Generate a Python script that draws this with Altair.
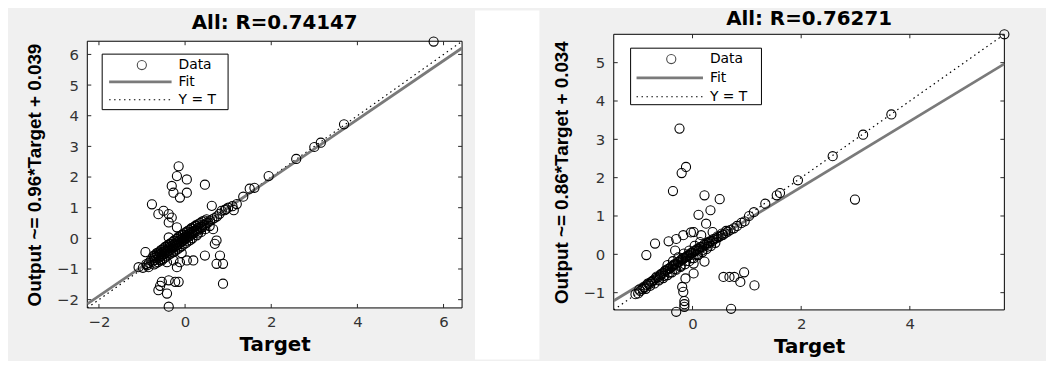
import altair as alt
import pandas as pd

# ---------------- Left panel data ----------------
left_title = "All: R=0.74147"
left_ytitle = "Output ~= 0.96*Target + 0.039"
left_domain = [-2.27, 6.43]
left_xticks = [-2, 0, 2, 4, 6]
left_yticks = [-2, -1, 0, 1, 2, 3, 4, 5, 6]
left_fit_x = [-2.27, 6.43]
left_fit_y = [-2.14, 6.21]

left_out_x = [5.77, 3.69, 3.00, 3.15, 2.58, 1.94, 1.61, 1.50, 1.35, 1.20, 1.13, 1.10, 0.85, 0.95, 0.62, 0.46,
              -0.15, -0.19, 0.04, -0.31, -0.27, 0.04, -0.12,
              -0.77, -0.50, -0.62, -0.38, -0.31, -0.38, -0.19, -0.38,
              -0.92, 0.65, 0.73, 0.69, 0.46, 0.81, 0.88, 0.73, 0.88,
              -0.27, -0.12, 0.04, 0.19, -0.19, -0.54, -0.42, -0.08,
              -0.54, -0.38, -0.23, -0.15, -0.62, -0.42, -0.38, -0.58,
              -1.08, -0.88, -0.85]
left_out_y = [6.42, 3.72, 2.98, 3.12, 2.59, 2.03, 1.65, 1.62, 1.36, 1.12, 0.92, 1.05, 0.90, 0.95, 1.06, 1.75,
              2.35, 2.03, 1.92, 1.71, 1.49, 1.49, 1.33,
              1.11, 0.90, 0.79, 0.79, 0.68, 0.52, 0.36, 0.03,
              -0.45, 0.30, -0.07, -0.18, -0.56, -0.56, -0.83, -0.83, -1.48,
              -0.72, -0.78, -0.72, -0.72, -0.94, -0.72, -0.78, -0.48,
              -1.42, -1.37, -1.42, -1.42, -1.69, -1.80, -2.23, -1.55,
              -0.94, -0.88, -0.94]
left_band_x = [-0.98, -0.90, -0.84, -0.80, -0.76, -0.72, -0.70, -0.67, -0.64, -0.62,
               -0.60, -0.58, -0.55, -0.53, -0.50, -0.48, -0.46, -0.44, -0.42, -0.40,
               -0.38, -0.36, -0.34, -0.32, -0.30, -0.28, -0.26, -0.24, -0.22, -0.20,
               -0.18, -0.16, -0.14, -0.12, -0.10, -0.08, -0.06, -0.04, -0.02, 0.00,
               0.02, 0.04, 0.06, 0.08, 0.10, 0.12, 0.14, 0.16, 0.18, 0.20,
               0.22, 0.25, 0.28, 0.31, 0.34, 0.37, 0.40, 0.43, 0.46, 0.50,
               0.54, 0.58, 0.63, 0.68, 0.74, 0.80, 0.92, 1.00,
               -0.74, -0.66, -0.56, -0.46, -0.36, -0.26, -0.16, -0.06, 0.04, 0.14, 0.24,
               -0.68, -0.58, -0.48, -0.38, -0.28, -0.18, -0.08, 0.02, 0.12, 0.30,
               -0.70, -0.65, -0.60, -0.55, -0.50, -0.45, -0.40, -0.35, -0.30, -0.25,
               -0.20, -0.15, -0.10, -0.05, 0.00, 0.05, 0.10, 0.15, 0.20, 0.25,
               0.30, 0.35, 0.40, 0.45, 0.50,
               -0.72, -0.63, -0.53, -0.43, -0.33, -0.23, -0.13, -0.03, 0.07, 0.17,
               0.27, 0.37, 0.47, 0.57]
left_band_y = [-0.96, -0.84, -0.80, -0.73, -0.76, -0.64, -0.71, -0.60, -0.66, -0.55,
               -0.60, -0.50, -0.57, -0.46, -0.52, -0.42, -0.49, -0.38, -0.45, -0.33,
               -0.41, -0.30, -0.37, -0.26, -0.33, -0.22, -0.29, -0.18, -0.25, -0.14,
               -0.21, -0.10, -0.17, -0.06, -0.13, -0.02, -0.09, 0.02, -0.04, 0.06,
               0.00, 0.10, 0.03, 0.13, 0.07, 0.17, 0.11, 0.21, 0.15, 0.24,
               0.19, 0.28, 0.24, 0.33, 0.30, 0.38, 0.36, 0.44, 0.42, 0.50,
               0.52, 0.58, 0.62, 0.66, 0.72, 0.80, 0.92, 1.00,
               -0.58, -0.48, -0.38, -0.28, -0.18, -0.08, 0.04, 0.12, 0.22, 0.32, 0.40,
               -0.82, -0.72, -0.64, -0.54, -0.46, -0.36, -0.26, -0.16, -0.06, 0.16,
               -0.55, -0.49, -0.44, -0.38, -0.33, -0.28, -0.22, -0.18, -0.12, -0.07,
               -0.02, 0.03, 0.09, 0.13, 0.18, 0.23, 0.28, 0.33, 0.37, 0.42,
               0.46, 0.50, 0.55, 0.58, 0.62,
               -0.85, -0.78, -0.68, -0.59, -0.49, -0.40, -0.30, -0.20, -0.10, 0.00,
               0.10, 0.20, 0.30, 0.40]

# ---------------- Right panel data ----------------
right_title = "All: R=0.76271"
right_ytitle = "Output ~= 0.86*Target + 0.034"
right_domain = [-1.45, 5.74]
right_xticks = [0, 2, 4]
right_yticks = [-1, 0, 1, 2, 3, 4, 5]
right_fit_x = [-1.45, 5.74]
right_fit_y = [-1.21, 4.97]

right_out_x = [5.74, 3.66, 3.14, 2.58, 1.94, 2.99, 1.61, 1.55, 1.34, 1.13, 1.04,
               -0.24, -0.12, -0.20, -0.36, 0.22, 0.50, 0.33, 0.11, 0.25,
               -0.69, -0.85, -0.44, -0.30, -0.17, -0.03, 0.02, -0.32, 0.16, 0.37, 0.22,
               0.02, -0.13, -0.19, -0.17, -0.15, -0.15, -0.15, -0.30, 0.71,
               0.57, 0.68, 0.77, 0.95, 0.88, 1.14, 0.02]
right_out_y = [5.74, 3.65, 3.12, 2.56, 1.93, 1.43, 1.60, 1.54, 1.32, 1.10, 1.00,
               3.28, 2.28, 2.12, 1.65, 1.54, 1.44, 1.15, 1.03, 0.80,
               0.28, -0.02, 0.34, 0.40, 0.50, 0.57, 0.58, 0.10, 0.50, 0.58, -0.19,
               -0.50, -0.63, -0.85, -0.98, -1.22, -1.30, -1.37, -1.50, -1.42,
               -0.59, -0.59, -0.59, -0.47, -0.72, -0.81, -0.24]
right_band_x = [-1.05, -1.00, -0.96, -0.92, -0.88, -0.84, -0.80, -0.76, -0.72, -0.68,
                -0.64, -0.60, -0.57, -0.54, -0.51, -0.48, -0.45, -0.42, -0.39, -0.36,
                -0.33, -0.30, -0.27, -0.24, -0.21, -0.18, -0.15, -0.12, -0.09, -0.06,
                -0.03, 0.00, 0.03, 0.06, 0.09, 0.12, 0.15, 0.18, 0.21, 0.24,
                0.27, 0.30, 0.33, 0.36, 0.40, 0.44, 0.48, 0.52, 0.56, 0.60,
                0.65, 0.70, 0.76, 0.82, 0.90, 0.96,
                -0.62, -0.52, -0.42, -0.32, -0.22, -0.12, -0.02, 0.08, 0.18, 0.28,
                -0.46, -0.36, -0.26, -0.16, -0.06, 0.04, 0.14,
                -0.98, -0.90, -0.82, -0.74, -0.66, -0.58, -0.50, -0.42, -0.34, -0.26,
                -0.18, -0.10, -0.02, 0.06, 0.14, 0.22, 0.30, 0.38, 0.46, 0.54, 0.62,
                -0.86, -0.78, -0.70, -0.62, -0.54, -0.46, -0.38, -0.30, -0.22, -0.14,
                -0.06, 0.02, 0.10, 0.18, 0.26, 0.34, 0.42]
right_band_y = [-1.04, -1.02, -0.96, -0.90, -0.86, -0.80, -0.78, -0.72, -0.68, -0.62,
                -0.60, -0.55, -0.50, -0.49, -0.44, -0.42, -0.38, -0.36, -0.32, -0.30,
                -0.26, -0.25, -0.20, -0.19, -0.14, -0.13, -0.09, -0.07, -0.03, -0.02,
                0.03, 0.04, 0.08, 0.09, 0.14, 0.14, 0.19, 0.19, 0.24, 0.24,
                0.29, 0.29, 0.34, 0.34, 0.39, 0.42, 0.45, 0.48, 0.51, 0.55,
                0.59, 0.64, 0.68, 0.74, 0.82, 0.86,
                -0.66, -0.56, -0.48, -0.38, -0.30, -0.18, -0.10, 0.00, 0.10, 0.20,
                -0.28, -0.18, -0.08, 0.02, 0.10, 0.22, 0.32,
                -0.92, -0.86, -0.76, -0.70, -0.58, -0.52, -0.42, -0.37, -0.26, -0.21,
                -0.10, -0.05, 0.04, 0.11, 0.19, 0.26, 0.33, 0.40, 0.47, 0.54, 0.61,
                -0.90, -0.82, -0.76, -0.68, -0.62, -0.54, -0.47, -0.40, -0.33, -0.26,
                -0.18, -0.10, -0.02, 0.06, 0.14, 0.22, 0.30]

legend_labels = ["Data", "Fit", "Y = T"]

H_FONT = "DejaVu Sans"
V_FONT = "Liberation Sans"
TICK = 4


def panel(tx, ty, dom, xticks, yticks, fx, fy, title, ytitle, w, h, top, lg, title_y):
    """h = plot-box height, top = gap (px) between the view origin and the box top."""
    H = h + top
    pts = pd.DataFrame({"Target": tx, "Output": ty})
    line_fit = pd.DataFrame({"Target": fx, "Output": fy})
    line_id = pd.DataFrame({"Target": dom, "Output": dom})
    xtick_df = pd.DataFrame({"Target": xticks})
    ytick_df = pd.DataFrame({"Output": yticks})
    xs = alt.Scale(domain=dom, nice=False, zero=False)
    ys = alt.Scale(domain=dom, nice=False, zero=False, range=[H, top])
    xax = alt.Axis(values=xticks, grid=False, ticks=False, domain=False, labelOverlap=False, labelFlush=False,
                   labelFont=H_FONT, labelFontSize=15, labelColor="#333333", labelPadding=7,
                   title="Target", titleFont=H_FONT, titleFontSize=20, titleFontWeight="bold",
                   titleColor="black", titlePadding=5)
    yax = alt.Axis(values=yticks, grid=False, ticks=False, domain=False, labelOverlap=False, labelFlush=False,
                   labelFont=H_FONT, labelFontSize=15, labelColor="#333333", labelPadding=9,
                   title=ytitle, titleFont=V_FONT, titleFontSize=19, titleFontWeight="bold",
                   titleColor="black", titlePadding=12)
    xenc = alt.X("Target:Q", scale=xs, axis=xax)
    yenc = alt.Y("Output:Q", scale=ys, axis=yax)
    one = pd.DataFrame({"k": [0]})
    frame = alt.Chart(one).mark_rect(fill="white", stroke="black", strokeWidth=1).encode(
        x=alt.value(0), x2=alt.value(w), y=alt.value(top), y2=alt.value(H))
    # MATLAB-style inward ticks on all four sides
    xt_bot = alt.Chart(xtick_df).mark_rule(color="#262626", strokeWidth=1).encode(
        x=xenc, y=alt.value(H), y2=alt.value(H - TICK))
    xt_top = alt.Chart(xtick_df).mark_rule(color="#262626", strokeWidth=1).encode(
        x=xenc, y=alt.value(top), y2=alt.value(top + TICK))
    yt_left = alt.Chart(ytick_df).mark_rule(color="#262626", strokeWidth=1).encode(
        y=yenc, x=alt.value(0), x2=alt.value(TICK))
    yt_right = alt.Chart(ytick_df).mark_rule(color="#262626", strokeWidth=1).encode(
        y=yenc, x=alt.value(w - TICK), x2=alt.value(w))
    ident = alt.Chart(line_id).mark_line(color="black", strokeWidth=1.2, strokeDash=[1.5, 3.5], clip=True).encode(
        x=xenc, y=yenc)
    fit = alt.Chart(line_fit).mark_line(color="#7a7a7a", strokeWidth=2.8, clip=True).encode(
        x=xenc, y=yenc)
    points = alt.Chart(pts).mark_point(shape="circle", filled=False, color="black", size=85,
                                       strokeWidth=1.1, opacity=1).encode(x=xenc, y=yenc)
    box = alt.Chart(one).mark_rect(fill="white", stroke="black", strokeWidth=1).encode(
        x=alt.value(lg["x0"]), x2=alt.value(lg["x1"]), y=alt.value(top + lg["y0"]), y2=alt.value(top + lg["y1"]))
    sym_pt = alt.Chart(one).mark_point(shape="circle", filled=False, color="black", size=85, strokeWidth=1.1).encode(
        x=alt.value(lg["cx"]), y=alt.value(top + lg["rows"][0]))
    sym_fit = alt.Chart(one).mark_rule(color="#7a7a7a", strokeWidth=2.8).encode(
        x=alt.value(lg["l0"]), x2=alt.value(lg["l1"]), y=alt.value(top + lg["rows"][1]))
    sym_id = alt.Chart(one).mark_rule(color="black", strokeWidth=1.2, strokeDash=[1.5, 3.5]).encode(
        x=alt.value(lg["l0"]), x2=alt.value(lg["l1"]), y=alt.value(top + lg["rows"][2]))
    texts = [alt.Chart(one).mark_text(text=lab, align="left", baseline="middle", font=H_FONT,
                                      fontSize=14, color="black").encode(
        x=alt.value(lg["tx"]), y=alt.value(top + lg["rows"][i])) for i, lab in enumerate(legend_labels)]
    ttl = alt.Chart(one).mark_text(text=title, align="center", baseline="alphabetic", font=H_FONT,
                                   fontSize=20, fontWeight="bold", color="black").encode(
        x=alt.value(w / 2), y=alt.value(title_y))
    return alt.layer(frame, xt_bot, xt_top, yt_left, yt_right, ident, fit, points,
                     box, sym_pt, sym_fit, sym_id, *texts, ttl).properties(
        width=w, height=H,
        view=alt.ViewBackground(strokeOpacity=0, fillOpacity=0))


left_lg = dict(x0=15, x1=142, y0=13, y1=69, cx=55, l0=22, l1=85, tx=92, rows=[24, 41, 59])
right_lg = dict(x0=17, x1=149, y0=14, y1=71, cx=58, l0=23, l1=90, tx=97, rows=[25, 44, 63])

left = panel(left_out_x + left_band_x, left_out_y + left_band_y, left_domain, left_xticks, left_yticks,
             left_fit_x, left_fit_y, left_title, left_ytitle, 378, 269, 7, left_lg, -5)
right = panel(right_out_x + right_band_x, right_out_y + right_band_y, right_domain, right_xticks, right_yticks,
              right_fit_x, right_fit_y, right_title, right_ytitle, 394, 278, 0, right_lg, -9)

spacer = alt.Chart(pd.DataFrame({"k": [0]})).mark_rect(fill="white").encode(
    x=alt.value(0), x2=alt.value(65), y=alt.value(-24), y2=alt.value(328)).properties(
    width=65, height=278, view=alt.ViewBackground(strokeOpacity=0, fillOpacity=0))

chart = alt.hconcat(left, spacer, right, spacing=12).properties(
    background="#f0f0f0",
    padding={"left": 17, "top": 0, "right": 35, "bottom": 0},
)

chart.save("out.html", embed_options={"renderer": "svg", "actions": False})
